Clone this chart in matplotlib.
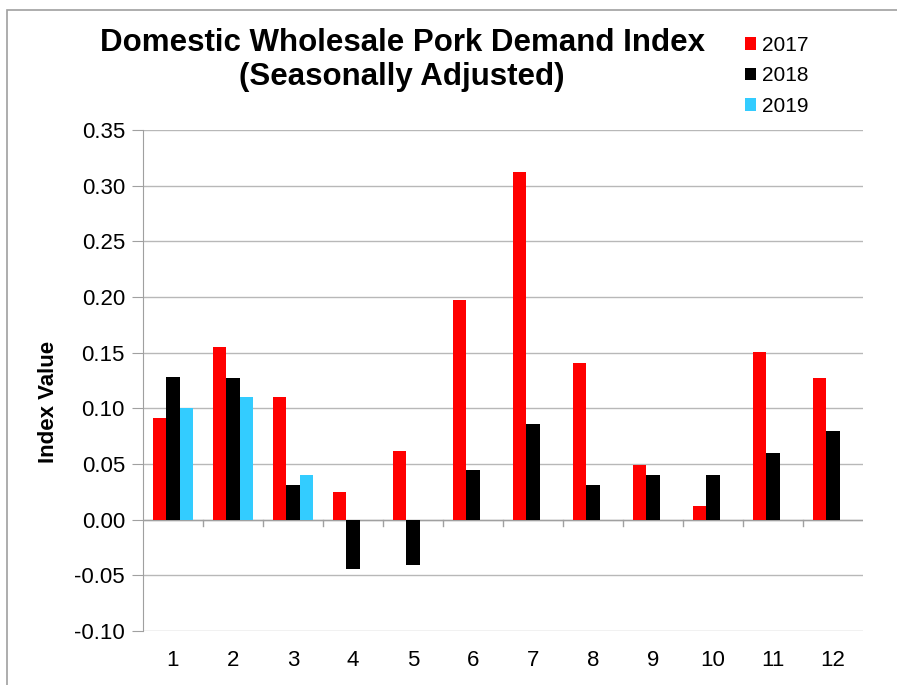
import matplotlib.pyplot as plt
import numpy as np
from matplotlib.patches import Rectangle

plt.rcParams["font.family"] = ["Liberation Sans", "DejaVu Sans"]

# data
months = [1, 2, 3, 4, 5, 6, 7, 8, 9, 10, 11, 12]
idx_2017 = [0.091, 0.155, 0.110, 0.025, 0.062, 0.197, 0.312, 0.141, 0.049, 0.012, 0.151, 0.127]
idx_2018 = [0.128, 0.127, 0.031, -0.044, -0.041, 0.045, 0.086, 0.031, 0.040, 0.040, 0.060, 0.080]
idx_2019 = [0.100, 0.110, 0.040]

fig = plt.figure(figsize=(8.97, 6.85), dpi=100)
ax = fig.add_axes([143 / 897, 1 - 631 / 685, 720 / 897, 501 / 685])

# outer frame of the chart
fig.patches.append(Rectangle((7 / 897, -0.05), 1.1, 1 - 10 / 685 + 0.05,
                             transform=fig.transFigure, fill=False,
                             edgecolor='#a0a0a0', linewidth=1.2))

x = np.arange(len(months))
w = 0.225
ax.bar(x - w, idx_2017, w, color='#ff0000', label='2017', zorder=3)
ax.bar(x, idx_2018, w, color='#000000', label='2018', zorder=3)
ax.bar(np.arange(len(idx_2019)) + w, idx_2019, w, color='#33ccff', label='2019', zorder=3)

ax.set_xlim(-0.5, 11.5)
ax.set_ylim(-0.10, 0.35)
ax.set_yticks(np.arange(-0.10, 0.351, 0.05))
ax.yaxis.set_major_formatter(plt.FuncFormatter(lambda v, p: f"{v:.2f}"))
ax.grid(axis='y', color='#b8b8b8', linewidth=1, zorder=0)

for s in ['top', 'right', 'bottom']:
    ax.spines[s].set_visible(False)
ax.spines['left'].set_color('#a0a0a0')
ax.tick_params(axis='y', length=8, color='#a0a0a0', labelsize=16, pad=5)

# x axis line at zero with category ticks
ax.axhline(0, color='#a0a0a0', linewidth=1, zorder=2)
for b in np.arange(0.5, 11.5, 1):
    ax.plot([b, b], [0, -0.006], color='#a0a0a0', linewidth=1, zorder=2)
ax.set_xticks(x, [str(m) for m in months])
ax.tick_params(axis='x', length=0, labelsize=16, pad=14)

fig.text(48 / 897, 1 - 402 / 685, 'Index Value', rotation=90, ha='center', va='center',
         fontsize=16, fontweight='bold')
fig.text(402 / 897, 1 - 43 / 685, 'Domestic Wholesale Pork Demand Index', ha='center',
         va='center', fontsize=22.5, fontweight='bold')
fig.text(402 / 897, 1 - 77 / 685, '(Seasonally Adjusted)', ha='center',
         va='center', fontsize=22.5, fontweight='bold')

leg = fig.legend(loc='upper left', bbox_to_anchor=(726 / 897, 1 - 17 / 685), frameon=False,
                 fontsize=15, handlelength=0.55, handleheight=0.55, handletextpad=0.3,
                 labelspacing=0.55)

fig.savefig('out.png', dpi=100)
